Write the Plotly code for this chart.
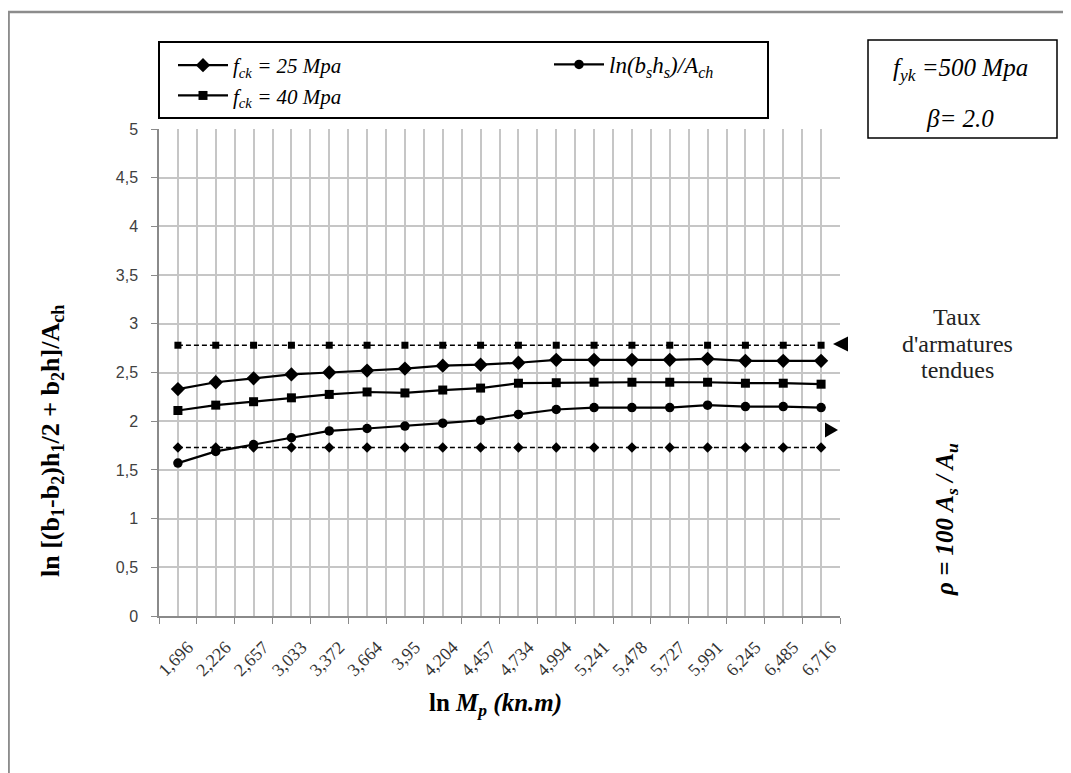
import plotly.graph_objects as go

# ---------------- data ----------------
mp_labels = ["1,696", "2,226", "2,657", "3,033", "3,372", "3,664", "3,95", "4,204", "4,457",
             "4,734", "4,994", "5,241", "5,478", "5,727", "5,991", "6,245", "6,485", "6,716"]
fck25 = [2.33, 2.40, 2.44, 2.48, 2.50, 2.52, 2.54, 2.57, 2.58,
         2.60, 2.63, 2.63, 2.63, 2.63, 2.64, 2.62, 2.62, 2.62]
fck40 = [2.11, 2.165, 2.20, 2.24, 2.275, 2.30, 2.29, 2.32, 2.34,
         2.39, 2.395, 2.40, 2.40, 2.40, 2.40, 2.39, 2.39, 2.38]
ln_bshs = [1.57, 1.69, 1.76, 1.83, 1.90, 1.925, 1.95, 1.98, 2.01,
           2.07, 2.12, 2.14, 2.14, 2.14, 2.165, 2.15, 2.15, 2.14]
rho_max = [2.78, 2.78, 2.78, 2.78, 2.78, 2.78, 2.78, 2.78, 2.78,
           2.78, 2.78, 2.78, 2.78, 2.78, 2.78, 2.78, 2.78, 2.78]
rho_min = [1.73, 1.73, 1.73, 1.73, 1.73, 1.73, 1.73, 1.73, 1.73,
           1.73, 1.73, 1.73, 1.73, 1.73, 1.73, 1.73, 1.73, 1.73]
y_ticks = [0, 0.5, 1, 1.5, 2, 2.5, 3, 3.5, 4, 4.5, 5]
side_label_lines = ["Taux", "d'armatures", "tendues"]

x = list(range(len(mp_labels)))

# ---------------- layout geometry ----------------
# the page body adds an 8 px margin, so the figure is 8 px smaller
OFF = 8
W, H = 1071 - OFF, 773 - OFF
PLOT_L, PLOT_T, PLOT_R, PLOT_B = 159, 129, 840, 616     # screen pixels
PW, PH = PLOT_R - PLOT_L, PLOT_B - PLOT_T
L, T = PLOT_L - OFF, PLOT_T - OFF
R, B = W - L - PW, H - T - PH


def px(xs):
    """screen x pixel -> paper x"""
    return (xs - PLOT_L) / PW


def py(ys):
    """screen y pixel -> paper y"""
    return (PLOT_B - ys) / PH


SERIF = "Liberation Serif"
SANS = "Liberation Sans"

fig = go.Figure()

fig.add_trace(go.Scatter(
    x=x, y=rho_max, mode="lines+markers", showlegend=False, name="rho max",
    line=dict(color="black", width=1.6, dash="5px,3px"),
    marker=dict(symbol="square", size=7, color="black")))
fig.add_trace(go.Scatter(
    x=x, y=rho_min, mode="lines+markers", showlegend=False, name="rho min",
    line=dict(color="black", width=1.6, dash="5px,3px"),
    marker=dict(symbol="diamond", size=8, color="black")))
fig.add_trace(go.Scatter(
    x=x, y=fck25, mode="lines+markers", legend="legend",
    name="<i>f<sub>ck</sub> = 25 Mpa</i>",
    line=dict(color="black", width=2.2),
    marker=dict(symbol="diamond", size=11, color="black")))
fig.add_trace(go.Scatter(
    x=x, y=fck40, mode="lines+markers", legend="legend",
    name="<i>f<sub>ck</sub> = 40 Mpa</i>",
    line=dict(color="black", width=2.2),
    marker=dict(symbol="square", size=9, color="black")))
fig.add_trace(go.Scatter(
    x=x, y=ln_bshs, mode="lines+markers", legend="legend2",
    name="<i>ln(b<sub>s</sub>h<sub>s</sub>)/A<sub>ch</sub></i>",
    line=dict(color="black", width=2.2),
    marker=dict(symbol="circle", size=9.5, color="black")))

GRID = "#c6c6c6"
AXIS = "#8a8a8a"

fig.update_xaxes(
    range=[-0.5, len(mp_labels) - 0.5],
    tickmode="array", tickvals=x, ticktext=mp_labels, tickangle=-45,
    ticks="", showgrid=True, gridcolor=GRID, gridwidth=1.5,
    minor=dict(tickmode="array", tickvals=[i - 0.5 for i in range(len(mp_labels) + 1)],
               ticks="outside", ticklen=6, tickcolor=AXIS, tickwidth=1,
               showgrid=True, gridcolor=GRID, gridwidth=1.5),
    showline=True, linecolor=AXIS, linewidth=1.5, zeroline=False,
    ticklabelstandoff=12, ticklabelshift=10,
    tickfont=dict(family=SERIF, size=18, color="#333333"),
)
fig.update_yaxes(
    range=[0, 5], tickmode="array", tickvals=y_ticks,
    ticks="outside", ticklen=6, tickcolor=AXIS, tickwidth=1,
    showgrid=True, gridcolor=GRID, gridwidth=1.5,
    showline=True, linecolor=AXIS, linewidth=1.5, zeroline=False,
    ticklabelstandoff=10,
    tickfont=dict(family=SANS, size=16, color="#404040"),
)

shapes = [
    # outer chart border
    dict(type="rect", xref="paper", yref="paper",
         x0=px(8.6), x1=px(1100), y0=py(12), y1=py(800),
         line=dict(color="#8c8c8c", width=2.5), layer="below"),
    # legend box
    dict(type="rect", xref="paper", yref="paper",
         x0=px(159), x1=px(768), y0=py(42), y1=py(118),
         line=dict(color="black", width=2)),
    # parameter box
    dict(type="rect", xref="paper", yref="paper",
         x0=px(868), x1=px(1057), y0=py(40), y1=py(138),
         line=dict(color="black", width=1.5)),
    # arrows
    dict(type="path", xref="paper", yref="paper",
         path=f"M {px(833)} {py(344)} L {px(848)} {py(336.5)} L {px(848)} {py(351.5)} Z",
         fillcolor="black", line=dict(color="black", width=0)),
    dict(type="path", xref="paper", yref="paper",
         path=f"M {px(838)} {py(430)} L {px(825)} {py(422.5)} L {px(825)} {py(437.5)} Z",
         fillcolor="black", line=dict(color="black", width=0)),
]

ann_common = dict(xref="paper", yref="paper", xanchor="center", yanchor="middle",
                  showarrow=False)
annotations = [
    dict(x=px(52), y=py(441), textangle=-90,
         text="<b>ln [(b<sub>1</sub>-b<sub>2</sub>)h<sub>1</sub>/2 + b<sub>2</sub>h]/A<sub>ch</sub></b>",
         font=dict(family=SERIF, size=26, color="black"), **ann_common),
    dict(x=px(495), y=py(704),
         text="<b>ln <i>M<sub>p</sub> (kn.m)</i></b>",
         font=dict(family=SERIF, size=25, color="black"), **ann_common),
    dict(x=px(946), y=py(520), textangle=-90,
         text="<b><i>ρ = 100 A<sub>s</sub> / A<sub>u</sub></i></b>",
         font=dict(family=SERIF, size=25, color="black"), **ann_common),
    dict(x=px(960), y=py(70),
         text="<i>f<sub>yk</sub> =500 Mpa</i>",
         font=dict(family=SERIF, size=25, color="black"), **ann_common),
    dict(x=px(960), y=py(118),
         text="<i>β= 2.0</i>",
         font=dict(family=SERIF, size=25, color="black"), **ann_common),
]
for line_text, line_y in zip(side_label_lines, [317, 344, 370]):
    annotations.append(dict(x=px(957), y=py(line_y), text=line_text,
                            font=dict(family=SERIF, size=24, color="#222222"),
                            **ann_common))

legend_common = dict(
    xanchor="left", yanchor="top", xref="paper", yref="paper",
    bgcolor="rgba(0,0,0,0)", borderwidth=0,
    traceorder="normal", tracegroupgap=0, itemwidth=50,
)

fig.update_layout(
    width=W, height=H, autosize=False,
    margin=dict(l=L, r=R, t=T, b=B),
    paper_bgcolor="white", plot_bgcolor="white",
    separators=", ",
    showlegend=True,
    legend=dict(orientation="v", x=px(173), y=py(45),
                font=dict(family=SERIF, size=21, color="black"), **legend_common),
    legend2=dict(orientation="v", x=px(549), y=py(43),
                 font=dict(family=SERIF, size=23, color="black"), **legend_common),
    shapes=shapes,
    annotations=annotations,
)

fig.write_html("out.html")
